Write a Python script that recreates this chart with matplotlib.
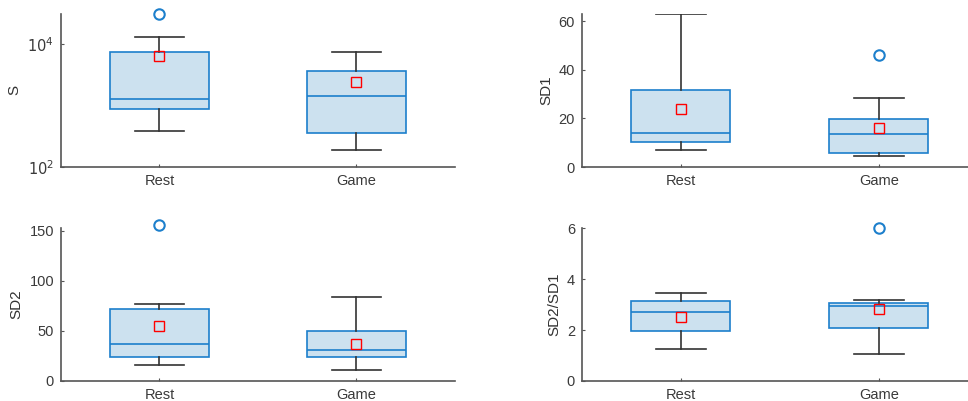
import math
import matplotlib
matplotlib.use('Agg')
import matplotlib.pyplot as plt

plt.rcParams['font.family'] = ['Liberation Sans', 'DejaVu Sans']

groups = ['Rest', 'Game']

# box statistics per measure: [Rest, Game]
s_whislo = [385, 190]
s_q1 = [871, 360]
s_med = [1297, 1413]
s_q3 = [7330, 3700]
s_whishi = [12800, 7400]
s_mean = [6470, 2440]
s_fliers = [[31000], []]

sd1_whislo = [7.0, 4.4]
sd1_q1 = [10.3, 5.9]
sd1_med = [14.0, 13.4]
sd1_q3 = [31.8, 19.9]
sd1_whishi = [63.0, 28.5]
sd1_mean = [23.7, 16.2]
sd1_fliers = [[], [45.9]]

sd2_whislo = [16.4, 10.8]
sd2_q1 = [24.2, 24.2]
sd2_med = [37.3, 30.6]
sd2_q3 = [72.0, 50.1]
sd2_whishi = [77.0, 83.4]
sd2_mean = [54.8, 37.3]
sd2_fliers = [[155.5], []]

ratio_whislo = [1.24, 1.08]
ratio_q1 = [1.96, 2.08]
ratio_med = [2.72, 2.93]
ratio_q3 = [3.14, 3.07]
ratio_whishi = [3.44, 3.19]
ratio_mean = [2.53, 2.82]
ratio_fliers = [[], [6.0]]

blue = '#1c7fcc'
face = '#CCE1EF'
dark = '#333333'
axcol = '#555555'


def make_stats(whislo, q1, med, q3, whishi, mean, fliers):
    return [dict(label=groups[i], whislo=whislo[i], q1=q1[i], med=med[i],
                 q3=q3[i], whishi=whishi[i], mean=mean[i], fliers=fliers[i])
            for i in range(len(groups))]


def draw(ax, stats, ylabel, ylim, yticks, log=False):
    bp = ax.bxp(stats, positions=[1, 2], widths=0.5, patch_artist=True,
                showmeans=True, showfliers=True,
                boxprops=dict(facecolor=face, edgecolor=blue, linewidth=1.2),
                medianprops=dict(color=blue, linewidth=1.2),
                whiskerprops=dict(color=dark, linewidth=1.2),
                capprops=dict(color=dark, linewidth=1.2),
                capwidths=0.25,
                meanprops=dict(marker='s', markerfacecolor='none',
                               markeredgecolor='red', markersize=6.5,
                               markeredgewidth=1.0),
                flierprops=dict(marker='o', markerfacecolor='none',
                                markeredgecolor=blue, markersize=7.5,
                                markeredgewidth=1.5))
    for f in bp['fliers']:
        f.set_clip_on(False)
    if log:
        ax.set_yscale('log')
    ax.set_ylim(*ylim)
    ax.set_yticks(yticks)
    if log:
        ax.set_yticklabels([r'$10^{%d}$' % round(math.log10(t)) for t in yticks])
    ax.minorticks_off()
    ax.set_xlim(0.5, 2.5)
    ax.set_xticks([1, 2])
    ax.set_xticklabels(groups)
    ax.set_ylabel(ylabel, fontsize=11, color='#333333', labelpad=4)
    for side in ['top', 'right']:
        ax.spines[side].set_visible(False)
    for side in ['left', 'bottom']:
        ax.spines[side].set_color(axcol)
        ax.spines[side].set_linewidth(1.2)
    ax.tick_params(direction='in', length=2.5, width=0.8, colors=axcol,
                   labelcolor='#3a3a3a', labelsize=10.5, pad=5)


fig = plt.figure(figsize=(9.68, 4.01), dpi=100)
h = 0.382
ax1 = fig.add_axes([0.0630, 0.5835, 0.407, h])
ax2 = fig.add_axes([0.6012, 0.5835, 0.409, h])
ax3 = fig.add_axes([0.0630, 0.0499, 0.407, h])
ax4 = fig.add_axes([0.6012, 0.0499, 0.409, h])

draw(ax1, make_stats(s_whislo, s_q1, s_med, s_q3, s_whishi, s_mean, s_fliers),
     'S', (100, 31000), [1e2, 1e4], log=True)
draw(ax2, make_stats(sd1_whislo, sd1_q1, sd1_med, sd1_q3, sd1_whishi, sd1_mean, sd1_fliers),
     'SD1', (0, 63), [0, 20, 40, 60])
draw(ax3, make_stats(sd2_whislo, sd2_q1, sd2_med, sd2_q3, sd2_whishi, sd2_mean, sd2_fliers),
     'SD2', (0, 153), [0, 50, 100, 150])
draw(ax4, make_stats(ratio_whislo, ratio_q1, ratio_med, ratio_q3, ratio_whishi, ratio_mean, ratio_fliers),
     'SD2/SD1', (0, 6.02), [0, 2, 4, 6])

fig.savefig('out.png', dpi=100)
